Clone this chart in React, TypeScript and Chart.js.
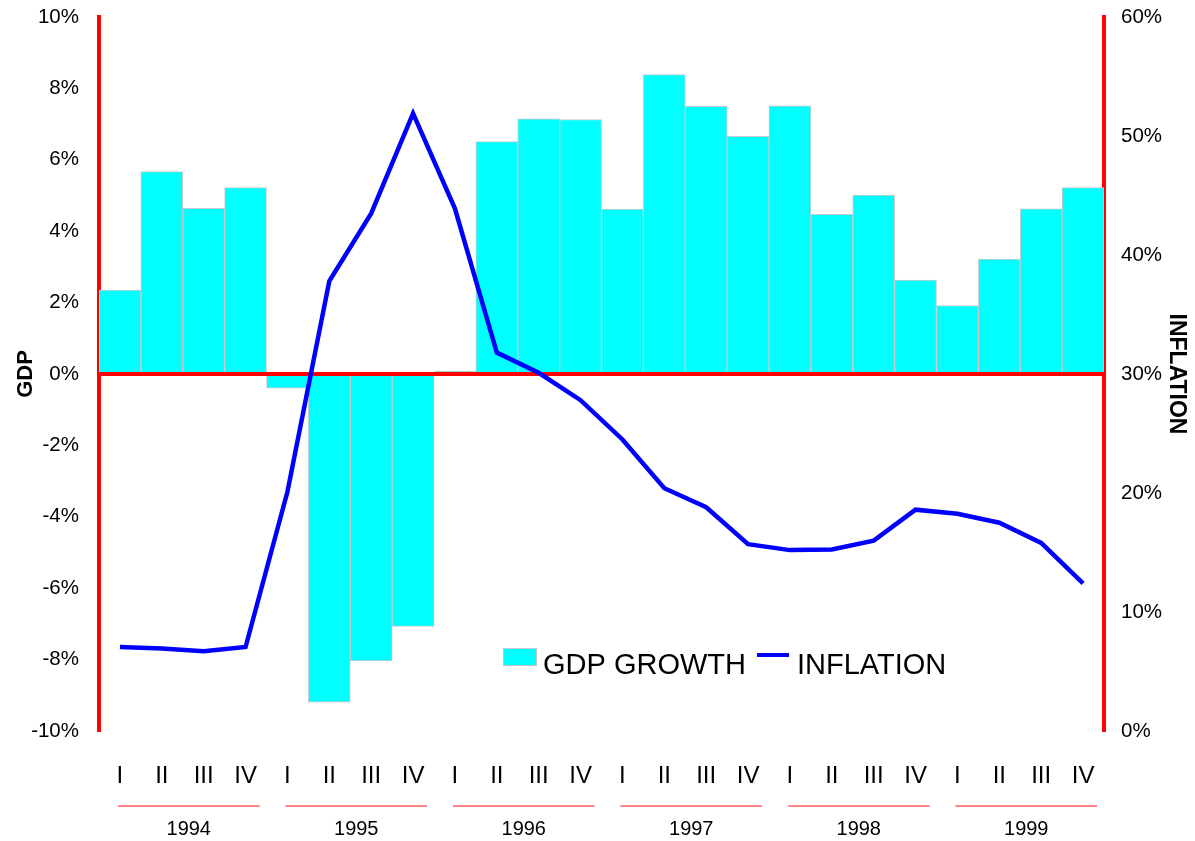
import React, { useEffect, useRef } from 'react';
import { Chart, registerables } from 'chart.js';

Chart.register(...registerables);

const quarterLabels = [
  'I', 'II', 'III', 'IV', 'I', 'II', 'III', 'IV', 'I', 'II', 'III', 'IV',
  'I', 'II', 'III', 'IV', 'I', 'II', 'III', 'IV', 'I', 'II', 'III', 'IV',
];
const yearLabels = ['1994', '1995', '1996', '1997', '1998', '1999'];
const gdpGrowth = [
  2.35, 5.67, 4.64, 5.22,
  -0.4, -9.19, -8.04, -7.07,
  0.08, 6.51, 7.15, 7.13,
  4.62, 8.39, 7.5, 6.66,
  7.51, 4.47, 5.01, 2.63,
  1.92, 3.22, 4.63, 5.22,
];
const inflation = [
  7.06, 6.93, 6.7, 7.06,
  20.1, 37.8, 43.5, 51.9,
  43.9, 31.8, 30.1, 27.8,
  24.5, 20.4, 18.8, 15.7,
  15.2, 15.25, 16.0, 18.6,
  18.25, 17.5, 15.8, 12.4,
];
const gdpTicks = { min: -10, max: 10, step: 2 };
const inflationTicks = { min: 0, max: 60, step: 10 };

const FONT = '"Liberation Sans", Arial, Helvetica, sans-serif';

const decorPlugin = {
  id: 'decor',
  afterDatasetDraw(chart: any, args: any) {
    if (args.index !== 1) return;
    const { ctx, chartArea } = chart;
    const y = chart.scales.y.getPixelForValue(0);
    ctx.save();
    ctx.strokeStyle = '#ff0000';
    ctx.lineWidth = 4;
    ctx.beginPath();
    ctx.moveTo(chartArea.left, y);
    ctx.lineTo(chartArea.right, y);
    ctx.stroke();
    ctx.restore();
  },
  afterDraw(chart: any) {
    const { ctx } = chart;
    const x = chart.scales.x;
    ctx.save();
    yearLabels.forEach((yr, g) => {
      const x0 = x.getPixelForValue(g * 4) - 2;
      const x1 = x.getPixelForValue(g * 4 + 3) + 14;
      ctx.strokeStyle = 'rgba(255,40,40,0.75)';
      ctx.lineWidth = 1.5;
      ctx.beginPath();
      ctx.moveTo(x0, 806);
      ctx.lineTo(x1, 806);
      ctx.stroke();
      ctx.fillStyle = '#000';
      ctx.font = `20px ${FONT}`;
      ctx.textAlign = 'center';
      ctx.textBaseline = 'alphabetic';
      ctx.fillText(yr, (x0 + x1) / 2, 835);
    });
    ctx.fillStyle = '#00ffff';
    ctx.fillRect(503, 648, 33, 17);
    ctx.strokeStyle = '#c8c8c8';
    ctx.lineWidth = 1;
    ctx.strokeRect(503.5, 648.5, 33, 17);
    ctx.fillStyle = '#000';
    ctx.font = `29px ${FONT}`;
    ctx.textAlign = 'left';
    ctx.textBaseline = 'alphabetic';
    ctx.fillText('GDP GROWTH', 543, 674);
    ctx.strokeStyle = '#0000ff';
    ctx.lineWidth = 4;
    ctx.beginPath();
    ctx.moveTo(757, 655);
    ctx.lineTo(789, 655);
    ctx.stroke();
    ctx.fillText('INFLATION', 797, 674);
    ctx.restore();
  },
};

export default function App() {
  const ref = useRef<HTMLCanvasElement>(null);
  useEffect(() => {
    if (!ref.current) return;
    const chart = new Chart(ref.current, {
      data: {
        labels: quarterLabels,
        datasets: [
          {
            type: 'line',
            label: 'INFLATION',
            data: inflation,
            yAxisID: 'y1',
            borderColor: '#0000ff',
            backgroundColor: '#0000ff',
            borderWidth: 4.5,
            pointRadius: 0,
            tension: 0,
            order: 0,
          } as any,
          {
            type: 'bar',
            label: 'GDP GROWTH',
            data: gdpGrowth,
            yAxisID: 'y',
            backgroundColor: '#00ffff',
            borderColor: '#c8c8c8',
            borderWidth: 1,
            borderSkipped: false,
            barPercentage: 1,
            categoryPercentage: 1,
            order: 1,
          } as any,
        ],
      },
      options: {
        responsive: false,
        animation: false,
        devicePixelRatio: 1,
        layout: { autoPadding: false, padding: { top: 17, left: 0, right: 0, bottom: 0 } },
        plugins: { legend: { display: false }, tooltip: { enabled: false } },
        scales: {
          x: {
            grid: { display: false, drawTicks: false },
            border: { display: false },
            ticks: {
              color: '#000',
              font: { family: FONT, size: 24 },
              padding: 31,
              maxRotation: 0,
              autoSkip: false,
            },
            afterFit: (s: any) => { s.height = 110; s.paddingLeft = 0; s.paddingRight = 0; },
          },
          y: {
            position: 'left',
            min: gdpTicks.min,
            max: gdpTicks.max,
            grid: { display: false, drawTicks: false },
            border: { display: true, color: '#ff0000', width: 4 },
            ticks: {
              stepSize: gdpTicks.step,
              color: '#000',
              font: { family: FONT, size: 20.5 },
              padding: 20,
              callback: (v: any) => `${v}%`,
            },
            title: {
              display: true,
              text: 'GDP',
              color: '#000',
              font: { family: FONT, size: 22, weight: 'bold' },
              padding: { top: 13, bottom: 0 },
            },
            afterFit: (s: any) => { s.width = 99; s.paddingTop = 0; s.paddingBottom = 0; },
          },
          y1: {
            position: 'right',
            min: inflationTicks.min,
            max: inflationTicks.max,
            grid: { display: false, drawTicks: false },
            border: { display: true, color: '#ff0000', width: 4 },
            ticks: {
              stepSize: inflationTicks.step,
              color: '#000',
              font: { family: FONT, size: 20.5 },
              padding: 17,
              callback: (v: any) => `${v}%`,
            },
            title: {
              display: true,
              text: 'INFLATION',
              color: '#000',
              font: { family: FONT, size: 23, weight: 'bold' },
              padding: { top: 5, bottom: 0 },
            },
            afterFit: (s: any) => { s.width = 91; s.paddingTop = 0; s.paddingBottom = 0; },
          },
        },
      } as any,
      plugins: [decorPlugin],
    });
    return () => chart.destroy();
  }, []);
  return (
    <div style={{ position: 'absolute', left: 0, top: 0, width: 1195, height: 841, background: '#fff' }}>
      <canvas ref={ref} width={1195} height={841} style={{ display: 'block', width: 1195, height: 841 }} />
    </div>
  );
}
